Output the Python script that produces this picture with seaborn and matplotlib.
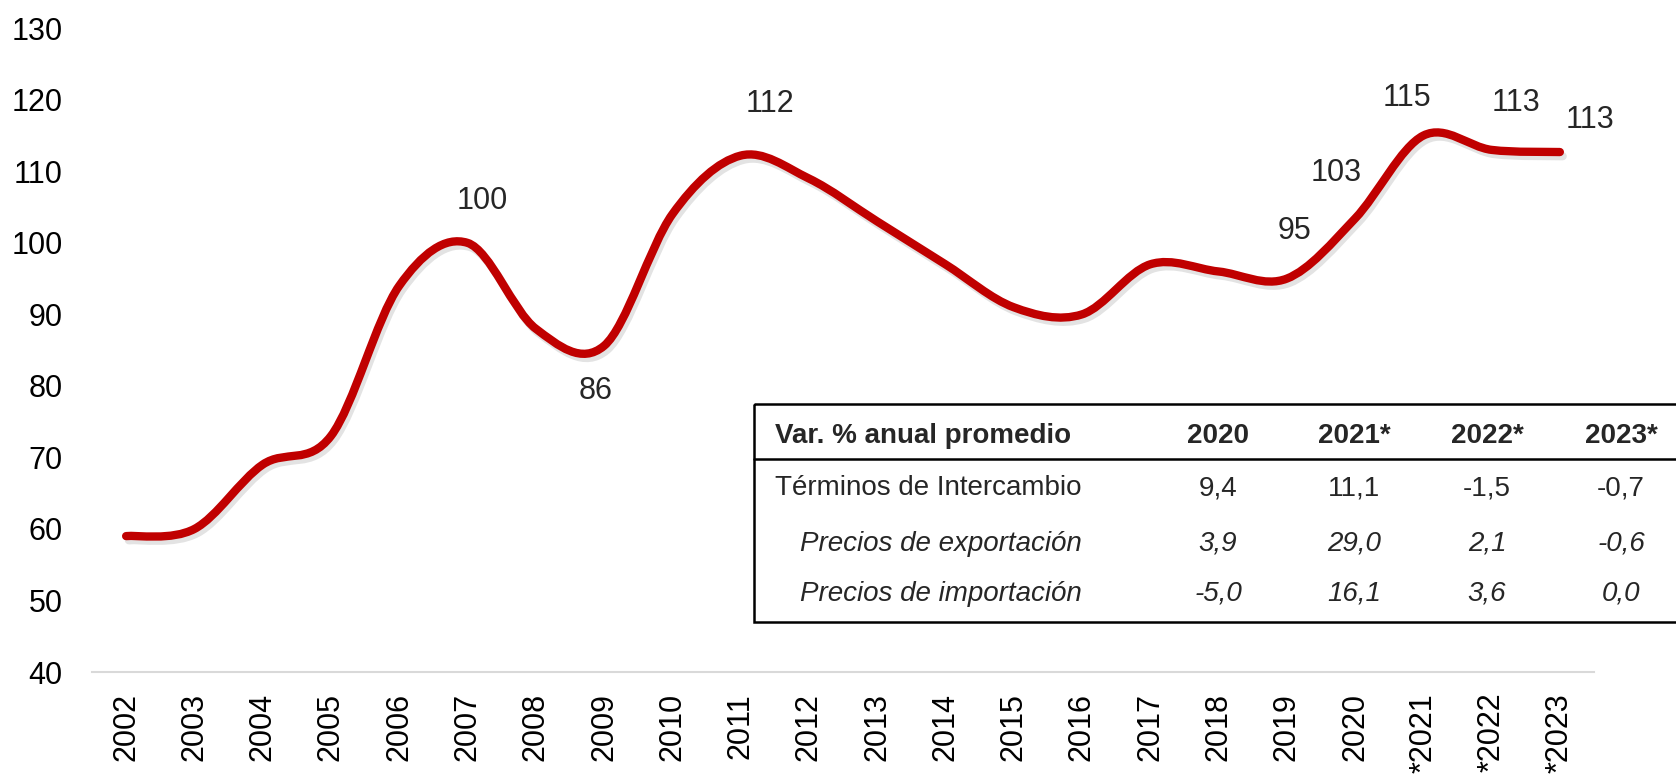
import matplotlib
matplotlib.use("Agg")
import matplotlib.pyplot as plt
import matplotlib.patheffects as pe
from matplotlib.path import Path
from matplotlib.patches import PathPatch, Rectangle
import numpy as np
import pandas as pd
import seaborn as sns

# Indice de terminos de intercambio
years = ["2002", "2003", "2004", "2005", "2006", "2007", "2008", "2009", "2010",
         "2011", "2012", "2013", "2014", "2015", "2016", "2017", "2018", "2019",
         "2020", "*2021", "*2022", "*2023"]
indice = [59, 60, 69, 73, 94, 100, 88, 85.6, 104, 112.2, 109, 103, 97, 91, 90,
          97, 96, 95, 103.4, 115, 113, 112.7]

# Etiquetas de datos
labeled_years = ["2007", "2009", "2011", "2019", "2020", "*2021", "*2022", "*2023"]
label_offsets = [(15, 42), (-8, -45), (29, 52), (8, 48), (-19, 46), (-16, 38), (24, 47), (30, 32)]

# Tabla de variaciones
tabla_titulo = "Var. % anual promedio"
tabla_cols = ["2020", "2021*", "2022*", "2023*"]
tabla_filas = ["Términos de Intercambio", "Precios de exportación", "Precios de importación"]
terminos = [9.4, 11.1, -1.5, -0.7]
exportacion = [3.9, 29.0, 2.1, -0.6]
importacion = [-5.0, 16.1, 3.6, 0.0]

W, H = 1676, 776
RED = "#C00000"

sns.set_style("white")
plt.rcParams["font.family"] = ["Liberation Sans", "DejaVu Sans"]

fig = plt.figure(figsize=(W / 100, H / 100), dpi=100)
ax = fig.add_axes([92 / W, 1 - 672 / H, (1594 - 92) / W, (672 - 28.3) / H])

df = pd.DataFrame({"year": years, "indice": indice})
sns.lineplot(data=df, x="year", y="indice", sort=False, color=RED, lw=6, ax=ax)

# linea suavizada (tipo Excel) a partir de los puntos de seaborn
line = ax.lines[0]
xy = line.get_xydata()
n = len(xy)
verts = [xy[0]]
codes = [Path.MOVETO]
for i in range(n - 1):
    p0, p1, p2, p3 = xy[max(i - 1, 0)], xy[i], xy[i + 1], xy[min(i + 2, n - 1)]
    verts += [p1 + (p2 - p0) / 6, p2 - (p3 - p1) / 6, p2]
    codes += [Path.CURVE4] * 3
curve = PathPatch(Path(verts, codes), fill=False, edgecolor=RED, lw=6,
                  capstyle="round", joinstyle="round", zorder=3)
curve.set_path_effects([pe.SimpleLineShadow(offset=(2, -3), shadow_color="gray", alpha=0.22),
                        pe.Normal()])
ax.add_patch(curve)
line.set_visible(False)

ax.set_xlim(-0.5, len(years) - 0.5)
ax.set_ylim(40, 130)
ax.set_yticks(range(40, 131, 10))
ax.set_xlabel("")
ax.set_ylabel("")
ax.grid(False)
for s in ["left", "top", "right"]:
    ax.spines[s].set_visible(False)
ax.spines["bottom"].set_color("#D9D9D9")
ax.spines["bottom"].set_linewidth(1.5)
ax.tick_params(axis="both", length=0, labelsize=22, colors="black")
ax.tick_params(axis="y", pad=21)
ax.tick_params(axis="x", labelrotation=90, pad=15)

for yr, (dx, dy) in zip(labeled_years, label_offsets):
    i = years.index(yr)
    ax.annotate(f"{indice[i]:.0f}", xy=(i, indice[i]), xytext=(dx, dy),
                textcoords="offset pixels", ha="center", va="center",
                fontsize=22, annotation_clip=False)

# tabla (el borde derecho queda fuera de la imagen)
tx0, tx1, ty0, ty1 = 754, 1690, 404, 622
tab = fig.add_axes([tx0 / W, 1 - ty1 / H, (tx1 - tx0) / W, (ty1 - ty0) / H])
tab.set_xlim(tx0, tx1)
tab.set_ylim(ty1, ty0)
tab.axis("off")
tab.add_patch(Rectangle((tx0, ty0), tx1 - tx0, ty1 - ty0, fill=False,
                        edgecolor="black", lw=1.8, clip_on=False))
tab.plot([tx0, tx1], [459, 459], color="black", lw=1.8, clip_on=False)

col_x = [1218, 1354, 1487, 1621]
row_y = [488, 544, 594]
tab.text(775, 436, tabla_titulo, fontsize=20, fontweight="bold", va="center", ha="left")
for cx, c in zip(col_x, tabla_cols):
    tab.text(cx, 436, c, fontsize=20, fontweight="bold", va="center", ha="center")

filas = [terminos, exportacion, importacion]
for k, (nombre, vals, ry) in enumerate(zip(tabla_filas, filas, row_y)):
    estilo = "normal" if k == 0 else "italic"
    x0 = 775 if k == 0 else 800
    tab.text(x0, ry, nombre, fontsize=20, style=estilo, va="center", ha="left")
    for cx, v in zip(col_x, vals):
        tab.text(cx, ry, f"{v:.1f}".replace(".", ","), fontsize=20, style=estilo,
                 va="center", ha="center")

fig.savefig("out.png", dpi=100)
